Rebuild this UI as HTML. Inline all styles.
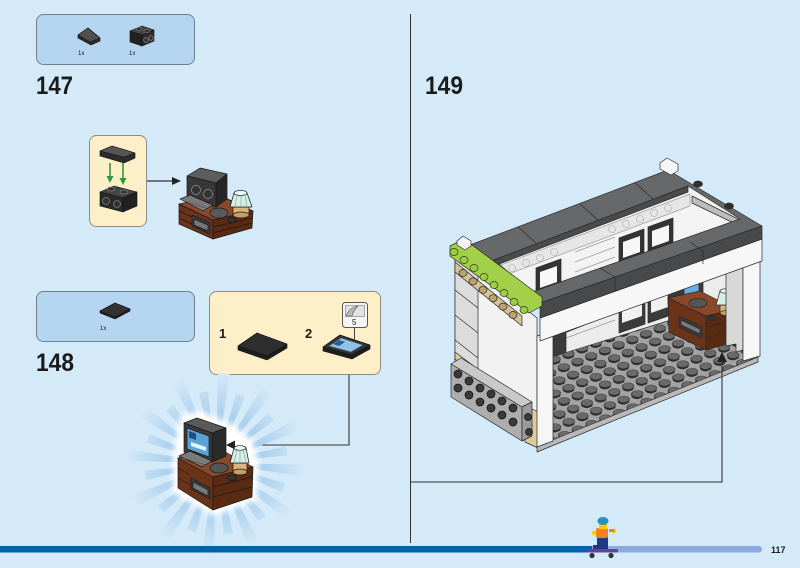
<!DOCTYPE html>
<html><head><meta charset="utf-8">
<style>
html,body{margin:0;padding:0;background:#d5eaf8;width:800px;height:568px;overflow:hidden}
svg{display:block}
text{font-family:"Liberation Sans",Arial,sans-serif;fill:#1b1b1b}
</style></head><body>
<svg width="800" height="568" viewBox="0 0 800 568" xmlns="http://www.w3.org/2000/svg" xmlns:xlink="http://www.w3.org/1999/xlink">
<defs>
 <radialGradient id="rg" gradientUnits="userSpaceOnUse" cx="216" cy="463" r="92">
  <stop offset="0" stop-color="#ffffff"/>
  <stop offset="0.42" stop-color="#a2cbeb"/>
  <stop offset="1" stop-color="#d5eaf8"/>
 </radialGradient>
 <polygon id="rA" points="216,463 306,457 306,469"/>
 <polygon id="rB" points="216,463 288,458.3 288,467.7"/>
 <pattern id="studs" patternUnits="userSpaceOnUse" width="10" height="10" patternTransform="matrix(1.37,-0.554,-0.92,-0.76,552.75,433.57)">
  <circle cx="3.81" cy="3.23" r="3.5" fill="#2e2e2e"/>
  <circle cx="4.4" cy="4.1" r="3.5" fill="#2e2e2e"/>
  <circle cx="5" cy="5" r="3.5" fill="#6a6a6a" stroke="#222" stroke-width="0.35"/>
 </pattern>
 <filter id="blur" x="-20%" y="-20%" width="140%" height="140%"><feGaussianBlur stdDeviation="3"/></filter>
</defs>
<rect width="800" height="568" fill="#d5eaf8"/>

<!-- divider -->
<line x1="410.5" y1="14" x2="410.5" y2="543" stroke="#333" stroke-width="1"/>

<!-- ===== parts box 147 ===== -->
<rect x="36.5" y="14.5" width="158" height="50" rx="7" fill="#b4d4ef" stroke="#6d7f90"/>
<g stroke="#111" stroke-width="0.6" stroke-linejoin="round">
 <polygon points="78,35 88,28 100,38 100,41 91,45 78,38" fill="#2a2a2a"/>
 <polygon points="78,35 88,28 100,38 90,42" fill="#505050"/>
 <polygon points="130,31 142,26 154,30 142,35" fill="#444"/>
 <polygon points="130,31 142,35 142,46 130,42" fill="#222"/>
 <polygon points="142,35 154,30 154,41 142,46" fill="#2c2c2c"/>
 <ellipse cx="139" cy="29" rx="3" ry="1.6" fill="#333" stroke="#888"/>
 <ellipse cx="147" cy="31" rx="3" ry="1.6" fill="#333" stroke="#888"/>
 <circle cx="146" cy="40" r="2.3" fill="#333" stroke="#999"/>
 <circle cx="151" cy="38" r="2.3" fill="#333" stroke="#999"/>
</g>
<text x="78" y="55" font-size="6">1x</text>
<text x="129" y="55" font-size="6">1x</text>
<text x="36" y="94" font-size="25" font-weight="bold" textLength="37" lengthAdjust="spacingAndGlyphs">147</text>

<!-- ===== callout 147 ===== -->
<rect x="89.5" y="135.5" width="57" height="91" rx="7" fill="#fdf0c8" stroke="#8c8c84"/>
<g stroke="#111" stroke-width="0.6" stroke-linejoin="round">
 <polygon points="100,151 112,146 135,153 135,158 124,163 100,156" fill="#2c2c2c"/>
 <polygon points="100,151 112,146 135,153 124,157" fill="#555"/>
 <polygon points="100,192 114,186 137,192 123,198" fill="#444"/>
 <polygon points="100,192 123,198 123,212 100,206" fill="#2a2a2a"/>
 <polygon points="123,198 137,192 137,206 123,212" fill="#222"/>
 <ellipse cx="111" cy="189" rx="4" ry="2" fill="#333" stroke="#999"/>
 <ellipse cx="124" cy="192" rx="4" ry="2" fill="#333" stroke="#999"/>
 <circle cx="106" cy="201" r="3.5" fill="#333" stroke="#999"/>
 <circle cx="117" cy="204" r="3.5" fill="#333" stroke="#999"/>
</g>
<g stroke="#2e9a3e" stroke-width="1.6" fill="#2e9a3e">
 <line x1="110" y1="163" x2="110" y2="177"/>
 <line x1="123" y1="163" x2="123" y2="179"/>
 <polygon points="106.5,176 113.5,176 110,183" stroke="none"/>
 <polygon points="119.5,178 126.5,178 123,185" stroke="none"/>
</g>
<line x1="147" y1="181" x2="174" y2="181" stroke="#333" stroke-width="1.2"/>
<polygon points="172,177 181,181 172,185" fill="#222"/>

<!-- desk 147 -->
<g stroke="#1a1a1a" stroke-width="0.7" stroke-linejoin="round">
 <polygon points="179,204 213,220 213,239 179,224" fill="#6b3418"/>
 <polygon points="213,220 253,211 252,228 213,239" fill="#5a2a12"/>
 <polygon points="179,204 219,195 253,211 213,220" fill="#8a4a2a"/>
 <line x1="213" y1="227" x2="252" y2="218"/><line x1="213" y1="233" x2="252" y2="223"/>
 <line x1="179" y1="211" x2="192" y2="217"/><line x1="179" y1="218" x2="192" y2="224"/>
 <polygon points="192,215 210,223 210,234 192,226" fill="#3c3c3c"/>
 <polygon points="194,219 208,225 208,231 194,225" fill="#777"/>
 <polygon points="187,176 200,168 227,174 216,183" fill="#5d5d5d"/>
 <polygon points="187,176 216,183 216,207 187,200" fill="#383838"/>
 <polygon points="216,183 227,174 227,199 216,207" fill="#262626"/>
 <circle cx="196" cy="190" r="4.5" fill="#333" stroke="#999"/>
 <circle cx="208" cy="194" r="4.5" fill="#333" stroke="#999"/>
 <polygon points="180,199 190,195 213,205 203,211" fill="#7a7a7a"/>
 <line x1="184" y1="201" x2="206" y2="208" stroke="#555"/>
 <ellipse cx="219" cy="213" rx="9" ry="5" fill="#5a5a5a"/>
 <ellipse cx="232" cy="220" rx="4" ry="2.5" fill="#333"/>
 <rect x="233" y="207" width="16" height="8" fill="#d8b37a"/>
 <ellipse cx="241" cy="215" rx="8" ry="3" fill="#c79f68"/>
 <polygon points="234,193 247,193 252,207 230,207" fill="#d6efe5"/>
 <ellipse cx="240.5" cy="193" rx="6.5" ry="2.5" fill="#e8f7f1"/>
 <line x1="237" y1="194" x2="235" y2="207" stroke="#8aa"/><line x1="241" y1="195" x2="241" y2="207" stroke="#8aa"/><line x1="245" y1="194" x2="247" y2="207" stroke="#8aa"/>
</g>

<!-- ===== parts box 148 ===== -->
<rect x="36.5" y="291.5" width="158" height="50" rx="7" fill="#b4d4ef" stroke="#6d7f90"/>
<g stroke="#111" stroke-width="0.6" stroke-linejoin="round">
 <polygon points="100,311 115,303 130,309 130,311 115,319 100,313" fill="#222"/>
 <polygon points="100,311 115,303 130,309 115,317" fill="#333"/>
</g>
<text x="100" y="330" font-size="6">1x</text>
<text x="36" y="371" font-size="25" font-weight="bold" textLength="38" lengthAdjust="spacingAndGlyphs">148</text>

<!-- ===== callout 148 ===== -->
<rect x="209.5" y="291.5" width="171" height="83" rx="7" fill="#fdf0c8" stroke="#8c8c84"/>
<text x="219" y="338" font-size="13" font-weight="bold">1</text>
<text x="305" y="338" font-size="13" font-weight="bold">2</text>
<g stroke="#111" stroke-width="0.6" stroke-linejoin="round">
 <polygon points="238,346 257,333 287,344 287,348 267,360 238,350" fill="#1e1e1e"/>
 <polygon points="238,346 257,333 287,344 267,356" fill="#2e2e2e"/>
 <polygon points="323,347 340,335 370,345 370,349 352,359 323,351" fill="#1e1e1e"/>
 <polygon points="323,347 340,335 370,345 352,355" fill="#333"/>
 <polygon points="329,346 341,338 363,345 351,352" fill="#8fc3e6" stroke="#456"/>
 <polygon points="333,344 339,340 345,342 339,346" fill="#2a5f95" stroke="none"/>
</g>
<line x1="354.5" y1="327" x2="354.5" y2="340" stroke="#444" stroke-width="1"/>
<rect x="342.5" y="302.5" width="25" height="25" rx="3" fill="#f6f6f6" stroke="#555"/>
<rect x="345.5" y="305.5" width="19" height="11" fill="#e2e2e2" stroke="#777" stroke-width="0.6"/>
<path d="M346,316 Q350,307 358,306 Q353,311 352,316 Z" fill="#bbb" stroke="#555" stroke-width="0.6"/>
<text x="352" y="325" font-size="8">5</text>

<!-- connector 148 -->
<polyline points="349,375 349,445 234,445" fill="none" stroke="#333" stroke-width="1.1"/>

<!-- ===== burst ===== -->
<g fill="url(#rg)">
 <use xlink:href="#rA" transform="rotate(5 216 463)"/>
 <use xlink:href="#rB" transform="rotate(20 216 463)"/>
 <use xlink:href="#rA" transform="rotate(35 216 463)"/>
 <use xlink:href="#rB" transform="rotate(50 216 463)"/>
 <use xlink:href="#rA" transform="rotate(65 216 463)"/>
 <use xlink:href="#rB" transform="rotate(80 216 463)"/>
 <use xlink:href="#rA" transform="rotate(95 216 463)"/>
 <use xlink:href="#rB" transform="rotate(110 216 463)"/>
 <use xlink:href="#rA" transform="rotate(125 216 463)"/>
 <use xlink:href="#rB" transform="rotate(140 216 463)"/>
 <use xlink:href="#rA" transform="rotate(155 216 463)"/>
 <use xlink:href="#rB" transform="rotate(170 216 463)"/>
 <use xlink:href="#rA" transform="rotate(185 216 463)"/>
 <use xlink:href="#rB" transform="rotate(200 216 463)"/>
 <use xlink:href="#rA" transform="rotate(215 216 463)"/>
 <use xlink:href="#rB" transform="rotate(230 216 463)"/>
 <use xlink:href="#rA" transform="rotate(245 216 463)"/>
 <use xlink:href="#rB" transform="rotate(260 216 463)"/>
 <use xlink:href="#rA" transform="rotate(275 216 463)"/>
 <use xlink:href="#rB" transform="rotate(290 216 463)"/>
 <use xlink:href="#rA" transform="rotate(305 216 463)"/>
 <use xlink:href="#rB" transform="rotate(320 216 463)"/>
 <use xlink:href="#rA" transform="rotate(335 216 463)"/>
 <use xlink:href="#rB" transform="rotate(350 216 463)"/>
</g>
<polygon points="180,416 200,411 232,424 252,440 259,462 257,500 214,516 173,493 173,455" fill="#ffffff" filter="url(#blur)"/>
<polygon points="226,445 235,440.5 235,449.5" fill="#222"/>

<!-- desk 148 -->
<g stroke="#1a1a1a" stroke-width="0.7" stroke-linejoin="round">
 <polygon points="178,458 213,477 213,510 178,488" fill="#6b3418"/>
 <polygon points="213,477 253,467 252,497 213,510" fill="#5a2a12"/>
 <polygon points="178,458 218,448 253,467 213,477" fill="#8a4a2a"/>
 <line x1="213" y1="487" x2="252" y2="477"/><line x1="213" y1="497" x2="252" y2="487"/>
 <line x1="178" y1="468" x2="190" y2="475"/><line x1="178" y1="478" x2="190" y2="485"/>
 <polygon points="191,478 210,488 210,499 191,489" fill="#3a3a3a"/>
 <polygon points="193,482 208,490 208,496 193,488" fill="#7a7a7a"/>
 <polygon points="184,423 197,418 226,428 212,433" fill="#5a5a5a"/>
 <polygon points="184,423 212,433 212,462 184,452" fill="#3a3a3a"/>
 <polygon points="212,433 226,428 226,456 212,462" fill="#2a2a2a"/>
 <polygon points="187,428 209,436 209,457 187,449" fill="#5ba3d6"/>
 <polygon points="189,431 196,433.5 196,440 189,437.5" fill="#1f4d80" stroke="none"/>
 <polygon points="191,442 206,447 206,451 191,446" fill="#e8f2fa" stroke="none"/>
 <polygon points="179,456 190,451 212,461 202,467" fill="#7a7a7a"/>
 <line x1="183" y1="458" x2="205" y2="465" stroke="#555"/>
 <ellipse cx="219" cy="468" rx="9" ry="5" fill="#555"/>
 <ellipse cx="232" cy="478" rx="4.5" ry="2.8" fill="#333"/>
 <rect x="233" y="463" width="14" height="9" fill="#d8b37a"/>
 <ellipse cx="240" cy="472" rx="7" ry="3" fill="#c79f68"/>
 <polygon points="234,448 246,448 249,463 230,463" fill="#d6efe5"/>
 <ellipse cx="240" cy="448" rx="6" ry="2.3" fill="#e8f7f1"/>
 <line x1="237" y1="449" x2="234" y2="463" stroke="#8aa"/><line x1="240" y1="450" x2="240" y2="463" stroke="#8aa"/><line x1="243" y1="449" x2="246" y2="463" stroke="#8aa"/>
</g>

<!-- ===== step 149 ===== -->
<text x="425" y="94" font-size="25" font-weight="bold" textLength="38" lengthAdjust="spacingAndGlyphs">149</text>

<g stroke="#2a2a2a" stroke-width="0.7" stroke-linejoin="round">
 <!-- left wall -->
 <polygon points="455,252 537,318 537,446 455,381" fill="#f2f2f2"/>
 <polygon points="455,258 478,276 478,400 455,381" fill="#dcdcdc"/>
 <line x1="455" y1="290" x2="478" y2="308"/><line x1="455" y1="315" x2="478" y2="333"/><line x1="455" y1="340" x2="478" y2="358"/>
 <!-- tan -->
 <polygon points="455,352 530,408 530,415 455,359" fill="#dccb9c"/>
 <polygon points="523,404 538,412 538,448 525,442" fill="#dccb9c"/>
 <!-- gray brick -->
 <polygon points="451,364 461,358 532,402 522,407" fill="#c9c9c9"/>
 <polygon points="451,364 522,407 522,441 451,397" fill="#adadad"/>
 <polygon points="522,407 532,402 532,436 522,441" fill="#9b9b9b"/>
 <g fill="#3a3a3a" stroke="#111">
  <circle cx="458" cy="374" r="4"/><circle cx="469" cy="381" r="4"/><circle cx="480" cy="388" r="4"/><circle cx="491" cy="394" r="4"/><circle cx="502" cy="401" r="4"/><circle cx="513" cy="408" r="4"/>
  <circle cx="458" cy="388" r="4"/><circle cx="469" cy="395" r="4"/><circle cx="480" cy="402" r="4"/><circle cx="491" cy="408" r="4"/><circle cx="502" cy="415" r="4"/><circle cx="513" cy="422" r="4"/>
  <circle cx="528" cy="417" r="3.5"/><circle cx="529" cy="432" r="3.5"/>
 </g>
 <!-- lower interior back wall -->
 <polygon points="552,338 742,262 742,352 552,362" fill="#ececec"/>
 <line x1="566" y1="318" x2="615" y2="300" stroke="#999"/><line x1="566" y1="328" x2="615" y2="310" stroke="#999"/><line x1="566" y1="338" x2="615" y2="320" stroke="#999"/>
 <polygon points="553,335 566,330 566,358 553,362" fill="#3b3b3b"/>
 <polygon points="619,303 645,294 645,324 619,333" fill="#3b3b3b"/>
 <polygon points="622,307 642,300 642,316 622,323" fill="#f0f0f0" stroke="none"/>
 <polygon points="648,293 674,284 674,314 648,323" fill="#3b3b3b"/>
 <polygon points="651,297 671,290 671,306 651,313" fill="#f0f0f0" stroke="none"/>
 <!-- floor -->
 <polygon points="537,446 758,357 758,362 537,452" fill="#b8b8b8"/>
 <polygon points="552,440 758,357 745,346 690,314 552,357" fill="#a3a3a3"/>
 <polygon points="552,440 758,357 745,346 690,314 552,357" fill="url(#studs)" stroke="none"/>
 <!-- desk 149 -->
 <polygon points="668,283 697,273 703,277 703,300 668,305" fill="#3b3b3b"/>
 <polygon points="684,281 699,276 699,292 684,297" fill="#6ab0de"/>
 <polygon points="668,298 706,316 706,350 669,332" fill="#6b3418"/>
 <polygon points="706,316 735,309 734,342 706,350" fill="#5a2a12"/>
 <polygon points="668,298 700,291 735,309 706,316" fill="#8a4a2a"/>
 <line x1="706" y1="327" x2="734" y2="320"/><line x1="706" y1="338" x2="734" y2="331"/>
 <polygon points="679,316 702,327 702,338 679,327" fill="#3a3a3a"/>
 <polygon points="681,320 700,329 700,334 681,325" fill="#7a7a7a"/>
 <ellipse cx="698" cy="303" rx="9" ry="4.5" fill="#555"/>
 <ellipse cx="712" cy="318" rx="4" ry="2.5" fill="#333"/>
 <rect x="720" y="305" width="13" height="8" fill="#d8b37a"/>
 <ellipse cx="726.5" cy="313" rx="6.5" ry="2.5" fill="#c79f68"/>
 <polygon points="720,291 731,291 735,305 716,305" fill="#d6efe5"/>
 <ellipse cx="725.5" cy="291" rx="5.5" ry="2.2" fill="#e8f7f1"/>
 <!-- right interior + pillar -->
 <polygon points="726,267 743,261 743,350 736,352 736,344 726,346" fill="#d8d8d8"/>
 <polygon points="743,262 760,256 760,356 743,361" fill="#f6f6f6"/>
 <!-- left pillar -->
 <polygon points="537,336 553,331 553,441 537,447" fill="#f6f6f6"/>
 <!-- upper interior -->
 <polygon points="494,258 690,184 742,218 532,294" fill="#f3f3f3" stroke="none"/>
 <polygon points="498,266 690,194 690,206 498,278" fill="#e6e6e6" stroke="#9a9a9a"/>
 <g fill="none" stroke="#aaa" stroke-width="0.6">
  <circle cx="512" cy="268" r="3.5"/><circle cx="526" cy="263" r="3.5"/><circle cx="540" cy="258" r="3.5"/><circle cx="554" cy="252" r="3.5"/>
  <circle cx="612" cy="229" r="3.5"/><circle cx="626" cy="224" r="3.5"/><circle cx="640" cy="219" r="3.5"/><circle cx="654" cy="213" r="3.5"/><circle cx="668" cy="208" r="3.5"/>
 </g>
 <line x1="575" y1="252" x2="615" y2="237" stroke="#999"/><line x1="575" y1="262" x2="615" y2="247" stroke="#999"/><line x1="575" y1="272" x2="615" y2="257" stroke="#999"/>
 <polygon points="536,268 561,259 561,287 536,296" fill="#333"/>
 <polygon points="540,272 557,266 557,282 540,288" fill="#f7f7f7" stroke="none"/>
 <polygon points="619,238 644,229 644,257 619,266" fill="#333"/>
 <polygon points="623,242 640,236 640,252 623,258" fill="#f7f7f7" stroke="none"/>
 <polygon points="648,227 673,218 673,246 648,255" fill="#333"/>
 <polygon points="652,231 669,225 669,241 652,247" fill="#f7f7f7" stroke="none"/>
 <polygon points="692,196 740,220 740,226 692,203" fill="#bdbdbd"/>
 <!-- white beam -->
 <polygon points="540,318 762,239 762,261 540,341" fill="#f7f7f7"/>
 <!-- roof -->
 <path d="M470,245 L668,170 L762,226 L540,303 Z M494,260 L688,186 L740,219 L532,292 Z" fill="#67686a" fill-rule="evenodd"/>
 <polygon points="494,260 688,186 688,192 494,266" fill="#4a4b4d"/>
 <polygon points="540,303 762,226 762,239 540,318" fill="#48494b"/>
 <line x1="518" y1="227" x2="536" y2="243"/><line x1="580" y1="204" x2="598" y2="220"/><line x1="635" y1="183" x2="653" y2="199"/>
 <line x1="600" y1="268" x2="615" y2="277"/><line x1="615" y1="277" x2="615" y2="291"/>
 <line x1="690" y1="242" x2="703" y2="251"/><line x1="703" y1="251" x2="703" y2="264"/>
 <ellipse cx="698" cy="184" rx="4.5" ry="3" fill="#2f2f2f"/>
 <ellipse cx="729" cy="206" rx="4.5" ry="3" fill="#2f2f2f"/>
 <ellipse cx="492" cy="263" rx="3.5" ry="2.5" fill="#2f2f2f"/>
 <polygon points="660,163 667,158 678,164 678,171 671,175 660,169" fill="#f5f5f5"/>
 <!-- lime plate & tan studs -->
 <polygon points="455,262 522,316 522,326 455,272" fill="#d4c39a"/>
 <g fill="#bda36e" stroke="#2a2a2a">
  <ellipse cx="463" cy="273" rx="4" ry="3.5"/><ellipse cx="473" cy="281.4" rx="4" ry="3.5"/><ellipse cx="483" cy="289.8" rx="4" ry="3.5"/><ellipse cx="493" cy="298.2" rx="4" ry="3.5"/><ellipse cx="503" cy="306.6" rx="4" ry="3.5"/><ellipse cx="513" cy="315" rx="4" ry="3.5"/>
 </g>
 <polygon points="450,246 464,239 542,297 542,306 529,313 450,256" fill="#a2d149"/>
 <g fill="#9ccc45" stroke="#2b3b16">
  <ellipse cx="454" cy="252" rx="4" ry="3.5"/><ellipse cx="464" cy="260" rx="4" ry="3.5"/><ellipse cx="474" cy="268" rx="4" ry="3.5"/><ellipse cx="484" cy="277" rx="4" ry="3.5"/><ellipse cx="494" cy="285" rx="4" ry="3.5"/><ellipse cx="504" cy="293" rx="4" ry="3.5"/><ellipse cx="514" cy="302" rx="4" ry="3.5"/><ellipse cx="524" cy="310" rx="4" ry="3.5"/>
 </g>
 <polygon points="457,241 463,236 471,241 471,246 465,250 457,245" fill="#f5f5f5"/>
</g>

<!-- connector 149 -->
<polyline points="411,482 722,482 722,361" fill="none" stroke="#333" stroke-width="1.1"/>
<polygon points="722,352 717,362 727,362" fill="#222"/>

<!-- ===== bottom bar ===== -->
<rect x="590" y="546" width="172" height="6.5" rx="3.2" fill="#8aabe0"/>
<rect x="0" y="546" width="592" height="6.5" fill="#0061ad"/>
<text x="771" y="553" font-size="9" font-weight="bold">117</text>

<!-- skater -->
<g>
 <rect x="597" y="537" width="11" height="12" fill="#1e3a80"/>
 <rect x="593" y="545" width="8" height="4" fill="#1e3a80"/>
 <rect x="596" y="528" width="12" height="10" rx="2" fill="#f08020"/>
 <circle cx="594" cy="533" r="2.3" fill="#f5d000"/>
 <circle cx="614" cy="531" r="2.3" fill="#f5d000"/>
 <rect x="609" y="529" width="5" height="3" fill="#f08020"/>
 <rect x="599" y="522" width="8" height="7" fill="#f5d000"/>
 <ellipse cx="603" cy="521" rx="5.5" ry="4" fill="#2c8fc4"/>
 <rect x="586" y="549" width="32" height="3.5" rx="1.5" fill="#5e44a0"/>
 <circle cx="592" cy="555.5" r="2.6" fill="#333"/>
 <circle cx="611" cy="555.5" r="2.6" fill="#333"/>
</g>
</svg>
</body></html>
